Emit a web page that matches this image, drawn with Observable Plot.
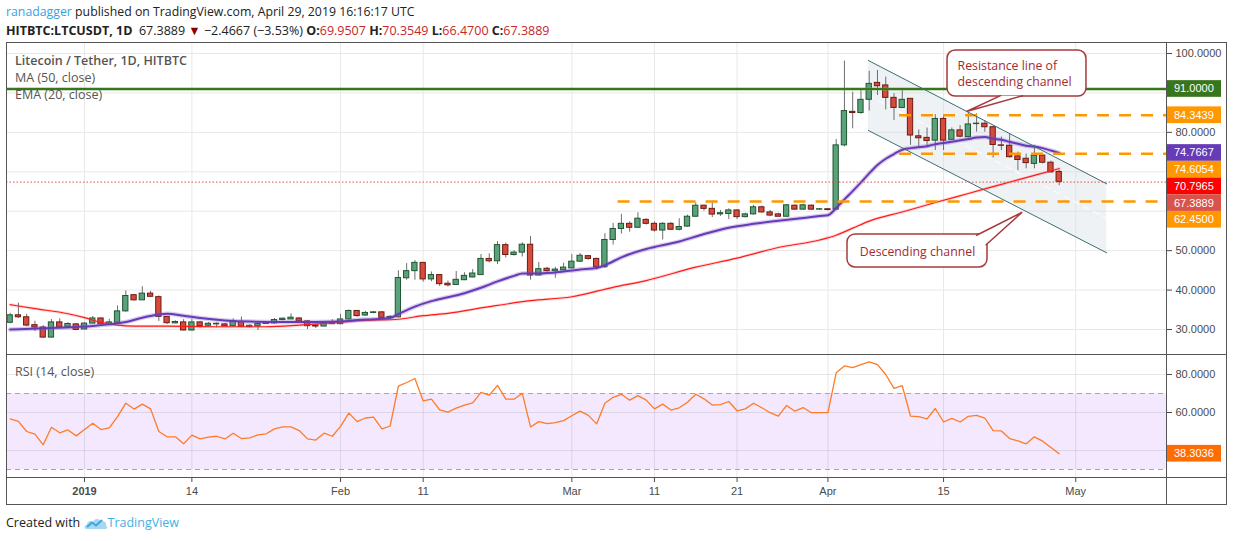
<!DOCTYPE html>
<html>
<head>
<meta charset="utf-8">
<script src="https://cdn.jsdelivr.net/npm/d3@7"></script>
<script src="https://cdn.jsdelivr.net/npm/@observablehq/plot@0.6"></script>
<style>
  html,body{margin:0;padding:0;background:#fff;}
  #root{position:relative;width:1234px;height:541px;overflow:hidden;font-family:"Open Sans","Noto Sans",sans-serif;color:#333;}
  .abs{position:absolute;}
  .hdr{position:absolute;left:6px;font-size:12.5px;white-space:nowrap;line-height:16px;color:#222;}
  .b{font-weight:700;}
  .rd{color:#c62828;}
  .ln{position:absolute;background:#555;}
  .leg{position:absolute;left:15px;font-size:12.5px;color:#555;white-space:nowrap;line-height:16px;}
</style>
</head>
<body>
<div id="root">
  <div class="hdr" style="top:4px;font-size:12.3px"><span style="color:#3ba2e0">ranadagger</span> published on TradingView.com, April 29, 2019 16:16:17 UTC</div>
  <div class="hdr" style="top:23px"><span class="b">HITBTC:LTCUSDT, 1D</span>&nbsp; 67.3889 <span style="color:#8b0000">▼</span> −2.4667 (−3.53%) <span class="b">O:</span><span class="rd">69.9507</span> <span class="b">H:</span><span class="rd">70.3549</span> <span class="b">L:</span><span class="rd">66.4700</span> <span class="b">C:</span><span class="rd">67.3889</span></div>
  <div id="price" class="abs" style="left:0;top:42px"></div>
  <div id="rsi" class="abs" style="left:0;top:354px"></div>
  <div class="leg" style="top:53px;font-weight:600;">Litecoin / Tether, 1D, HITBTC</div>
  <div class="leg" style="top:70px">MA (50, close)</div>
  <div class="leg" style="top:87px">EMA (20, close)</div>
  <div class="leg" style="top:364px">RSI (14, close)</div>
  <div class="ln" style="left:6px;top:42px;width:1221px;height:1px"></div>
  <div class="ln" style="left:6px;top:504px;width:1221px;height:1px"></div>
  <div class="ln" style="left:6px;top:42px;width:1px;height:463px"></div>
  <div class="ln" style="left:1226px;top:42px;width:1px;height:463px"></div>
  <div class="ln" style="left:1166px;top:42px;width:1px;height:463px"></div>
  <div class="ln" style="left:6px;top:354px;width:1221px;height:1px"></div>
  <div class="ln" style="left:6px;top:477px;width:1221px;height:1px"></div>
  <div class="abs" style="left:6px;top:514px;font-size:12.5px;line-height:18px;white-space:nowrap;color:#222;display:flex;align-items:center;">
    Created with&nbsp;<svg width="24" height="16" viewBox="0 0 24 16"><path d="M2 14 C0 14 0 10 3 9.5 C3 6 7 5 9 7 C10 3.5 15 3 16.5 6.5 C19 5 23 7 22 10.5 C24 11.5 23.5 14 21.5 14 Z" fill="#a8d8ef"/><path d="M3 12 L8 7.5 L12 10.5 L18 5" stroke="#3aa8dc" stroke-width="2" fill="none"/></svg><span style="color:#43b1e3">TradingView</span>
  </div>
</div>
<script>
const DAY = 864e5, T0 = Date.UTC(2019, 0, 1);
const toDate = d => new Date(T0 + d * DAY);
const FONT = '"Open Sans","Noto Sans",sans-serif';
const AXFONT = '"Liberation Sans",Arial,sans-serif';

// ---- data (day index 0 = 2019-01-01) ----
const firstDay = -9; // 2018-12-23
const opens = [31.7,33.6,33.1,31.1,30.5,27.95,31.8,30.6,31.3,
30.0,31.5,32.8,31.2,31.7,34.6,38.7,37.4,39.1,38.2,
33.2,31.55,31.8,29.75,31.8,30.95,31.3,31.3,30.85,31.9,
30.6,30.8,31.4,31.55,32.4,32.55,32.8,32.05,31.0,30.75,
31.8,31.35,32.55,34.7,33.55,34.2,34.35,32.95,33.1,43.0,
44.8,46.9,42.7,43.8,41.6,41.3,42.5,43.2,43.8,47.9,
47.3,51.4,48.9,49.5,51.5,43.7,45.4,44.8,45.0,45.5,
47.2,48.6,47.9,45.8,52.7,55.5,56.8,55.8,57.8,56.8,
55.1,56.8,55.3,56.1,58.6,61.4,60.6,59.2,59.3,60.2,
58.5,59.2,61.0,59.7,59.2,58.6,61.4,60.4,61.4,60.4,
60.5,60.4,76.7,85.2,84.9,88.25,92.55,91.9,88.75,86.2,
88.5,79.0,78.6,77.9,83.4,78.1,80.5,78.8,82.1,82.2,
81.3,76.7,76.6,73.9,73.3,72.0,74.1,72.3,69.9507];
const highs = [34.1,36.7,33.85,32.1,31.0,32.5,32.7,31.7,31.5,
31.7,33.3,32.9,32.6,36.0,39.8,38.9,40.85,39.7,38.5,
33.3,32.2,32.5,32.55,32.05,31.8,31.7,31.45,32.7,33.15,
31.2,31.6,31.95,32.8,32.9,34.0,33.0,32.3,31.3,31.9,
32.5,33.85,34.95,34.85,34.6,34.5,34.5,33.5,44.9,46.7,
47.5,46.95,44.6,43.9,42.3,44.7,44.4,45.2,49.0,49.2,
52.3,51.9,50.0,52.0,53.6,47.0,45.8,45.8,46.8,49.0,
49.3,48.8,48.1,54.3,56.9,59.2,57.3,59.6,58.1,57.3,
57.1,57.1,58.1,59.0,62.1,61.5,62.6,60.2,60.6,60.3,
59.5,61.5,61.3,60.2,59.5,61.7,61.6,61.8,61.6,60.7,
60.6,78.2,98.1,90.2,90.6,95.5,95.7,94.0,89.8,91.0,
88.6,80.6,81.1,84.5,84.5,81.1,81.7,84.9,84.7,83.0,
81.5,78.8,79.6,75.0,74.5,76.7,74.3,72.7,70.3549];
const lows = [31.45,32.8,30.7,29.5,27.8,27.9,30.3,30.4,29.7,
29.95,31.4,31.2,31.0,31.6,34.4,37.2,37.35,38.1,32.05,
31.3,31.45,29.65,29.55,30.4,30.75,30.4,30.7,30.7,30.6,
30.4,29.75,31.3,31.35,32.2,32.55,31.7,30.0,30.25,30.7,
31.3,31.2,32.4,33.15,33.3,34.0,32.8,32.8,32.9,42.5,
42.5,42.0,42.1,40.9,40.8,41.2,42.4,43.1,43.7,46.9,
46.5,48.1,48.6,48.4,42.5,43.6,44.5,43.0,44.8,45.4,
47.0,47.6,45.1,45.5,51.4,54.2,54.7,55.7,56.5,54.7,
52.7,55.1,55.0,55.9,58.5,60.0,58.4,58.7,57.9,57.9,
58.3,59.0,59.5,58.6,58.6,58.6,60.3,60.3,60.2,60.2,
60.1,60.3,76.3,80.9,84.6,85.4,89.35,85.7,83.0,86.0,
76.7,76.2,76.1,75.4,75.4,78.1,78.6,78.6,80.05,80.05,
73.5,75.4,73.5,70.3,70.75,70.75,72.0,69.7,66.47];
const closes = [33.6,33.1,31.0,30.5,27.95,31.8,30.5,31.4,29.9,
31.5,32.8,31.3,31.8,34.6,38.5,37.4,39.1,38.3,33.2,
31.6,31.9,29.75,31.8,30.85,31.45,31.45,30.8,32.05,30.7,
30.95,31.4,31.8,32.4,32.75,33.0,32.05,30.85,30.75,31.7,
31.35,32.55,34.7,33.4,34.2,34.35,32.95,33.2,43.05,44.8,
46.9,42.7,43.8,41.5,41.2,42.6,43.6,44.2,47.9,47.3,
51.4,48.9,49.5,51.5,43.7,45.3,44.8,45.2,45.7,47.2,
48.7,47.9,45.8,52.7,55.5,56.8,55.8,58.1,56.8,55.1,
56.8,55.3,56.0,58.6,61.4,60.6,59.15,59.5,60.2,58.5,
59.2,61.0,59.7,58.9,58.6,61.5,60.4,61.5,60.4,60.5,
60.3,76.7,85.4,84.9,88.25,92.3,91.7,88.75,86.2,88.25,
79.2,78.5,77.8,83.4,77.9,80.5,78.9,82.0,82.2,81.3,
76.8,76.6,73.7,73.0,72.2,74.1,72.3,69.8556,67.3889];
const rsiValues = [56.6,55.3,50.0,48.6,43.0,52.2,49.3,50.8,47.7,
51.0,54.3,51.0,51.9,57.8,64.9,61.8,64.4,61.9,50.0,
47.2,47.2,43.5,48.1,46.1,47.0,47.5,46.1,49.1,46.3,
46.7,48.2,48.8,51.4,52.4,52.4,50.5,46.1,45.5,49.1,
47.5,52.7,59.7,55.2,57.1,57.6,51.4,52.9,73.9,75.8,
77.9,66.1,67.0,61.4,60.2,62.3,63.9,65.1,70.6,69.1,
74.3,67.0,67.0,70.1,52.4,55.2,54.1,54.7,55.7,58.3,
60.7,58.5,54.0,64.9,68.0,69.6,66.5,68.9,66.5,61.9,
64.4,61.3,62.5,65.4,69.6,67.2,63.9,64.2,65.8,60.9,
61.9,64.9,62.5,59.9,58.1,63.7,60.7,62.6,59.9,59.9,
59.9,80.9,84.5,83.6,85.2,86.6,85.2,80.0,72.7,74.1,
58.1,57.8,56.6,62.1,55.0,56.9,55.0,58.0,58.5,57.1,
50.5,50.3,46.3,45.1,43.5,47.2,44.9,41.6,38.3036];
const maDays = [-9,-6,-2,0,2,4,6,10,16,22,26,30,34,38,41,44,49,54,59,64,68,74,79,84,89,91,93,95,99,103,107,111,115,118];
const maValues = [36.3,35.3,34.0,33.0,31.8,31.1,30.85,30.85,30.7,30.7,31.1,31.7,32.3,32.6,33.5,34.1,35.8,37.3,38.3,40.7,42.4,45.8,48.1,50.8,52.7,53.9,55.7,57.5,59.8,62.2,64.5,66.8,69.1,70.7965];
const emaDays = [-9,-5,-1,1,3,5,7,9,10,12,14,17,20,24,28,31,33,35,37,38,40,42,44,46,48,50,52,53,55,58,60,62,63,65,68,72,75,78,81,84,87,89,90,91,92,93,94,95,96,97,98,99,100,102,103,105,107,108,109,110,111,112,113,114,115,116,117,118];
const emaValues = [30.0,30.3,30.65,30.9,31.3,31.9,33.0,33.8,34.0,33.5,32.9,32.3,32.0,31.9,31.9,32.0,32.4,32.6,32.9,33.9,35.8,37.2,38.2,39.2,40.6,42.2,43.6,44.2,44.2,44.7,45.2,45.6,46.3,48.3,50.4,52.3,54.2,55.8,56.8,57.6,58.3,58.8,59.0,60.8,63.0,65.1,67.3,69.6,71.7,73.3,74.5,75.6,76.0,76.5,77.0,77.6,78.3,78.7,78.8,78.4,78.1,77.6,77.1,76.6,76.4,76.0,75.4,74.7667];

// axes
const xDomainDays = [-9.443, 130.99];
const tickDays = [0, 13, 31, 41, 59, 69, 79, 90, 104, 120];
const tickLabels = ["2019","14","Feb","11","Mar","11","21","Apr","15","May"];
const priceDomain = [23.66, 102.79];
const priceGrid = [30,40,50,60,70,80,90,100];
const priceTicks = [30,40,50,80,100];
const rsiDomain = [25.79, 90.53];
const rsiGrid = [40,60,80];
const rsiTicks = [60,80];
const rsiBand = [30,70];

// drawings
const resistanceLevel = 91;
const levelValues = [84.3439, 74.6054, 62.45];
const levelStartDays = [98.67, 98.67, 64.6];
const closeLevel = 67.3889;
const channelDays = [94.9, 123.75];
const channelUpper = [98.22, 66.95];
const channelLower = [80.47, 49.45];
const labelValues = [91, 84.3439, 74.7667, 74.6054, 70.7965, 67.3889, 62.45];
const labelColors = ["#38761d","#ff9800","#673ab7","#ff9800","#ff0000","#d9534a","#ff9800"];
const rsiLabelValues = [38.3036];
const rsiLabelColors = ["#ff6d00"];
const calloutTexts = ["Resistance line of\ndescending channel", "Descending channel"];
const calloutBoxDays = [[104.48, 121.3], [92.37, 109.32]];
const calloutBoxValues = [[100.76, 89.09], [54.1, 45.73]];
const calloutTextDays = [105.7, 100.85];
const calloutTextValues = [95.05, 50.0];
const calloutAnchors = ["start", "middle"];
const calloutTailDays = [[110.9, 106.78, 113.56], [108.0, 113.52, 109.15]];
const calloutTailValues = [[89.3, 85.29, 89.3], [53.9, 59.75, 51.5]];

// ---- build ----
const xDomain = xDomainDays.map(toDate);
const tickDates = tickDays.map(toDate);
const labelMap = new Map(tickDates.map((d, i) => [+d, tickLabels[i]]));
const candles = opens.map((o, i) => ({date: toDate(firstDay + i), open: o, high: highs[i], low: lows[i], close: closes[i]}));
const up = d => d.close >= d.open;
const maData = maDays.map((d, i) => ({date: toDate(d), value: maValues[i]}));
const emaData = emaDays.map((d, i) => ({date: toDate(d), value: emaValues[i]}));
const channel = channelDays.map((d, i) => ({date: toDate(d), upper: channelUpper[i], lower: channelLower[i], mid: (channelUpper[i] + channelLower[i]) / 2}));
const levels = levelValues.map((v, i) => ({value: v, start: toDate(levelStartDays[i]), end: xDomain[1]}));
const boxes = calloutTexts.map((t, i) => ({x1: toDate(calloutBoxDays[i][0]), x2: toDate(calloutBoxDays[i][1]), y1: calloutBoxValues[i][0], y2: calloutBoxValues[i][1]}));
const tails = calloutTexts.flatMap((t, i) => calloutTailDays[i].map((d, j) => ({id: i, date: toDate(d), value: calloutTailValues[i][j]})));
const texts = calloutTexts.map((t, i) => ({text: t, date: toDate(calloutTextDays[i]), value: calloutTextValues[i], anchor: calloutAnchors[i]}));
const FRAME_RIGHT = 1166;

function sideLabels(vals, colors) {
  return function(index, scales) {
    const g = d3.create("svg:g").attr("font-family", AXFONT).attr("font-size", 11).attr("text-anchor", "start");
    const items = vals.map((v, i) => ({v, c: colors[i]})).sort((a, b) => b.v - a.v);
    const h = 16.7;
    let prev = -Infinity;
    for (const it of items) {
      const cy = Math.max(scales.y(it.v), prev + h);
      prev = cy;
      g.append("rect").attr("x", FRAME_RIGHT).attr("y", cy - h / 2).attr("width", 55).attr("height", h).attr("fill", it.c);
      g.append("text").attr("x", FRAME_RIGHT + 8).attr("y", cy).attr("dy", "0.36em").attr("text-anchor", "start").attr("fill", "#fff").text(it.v.toFixed(4));
    }
    return g.node();
  };
}

const baseStyle = {background: "transparent", fontFamily: AXFONT, fontSize: "11px", color: "#4a4a4a", overflow: "visible"};
const textStyle = {x: "date", y: "value", text: "text", fill: "#a42a2f", fontSize: 12.3, fontFamily: FONT, lineHeight: 1.32};

const price = Plot.plot({
  width: 1234, height: 312, marginLeft: 6, marginRight: 68, marginTop: 0, marginBottom: 0,
  style: baseStyle,
  x: {type: "utc", domain: xDomain, axis: null},
  y: {domain: priceDomain, axis: "right", ticks: priceTicks, tickFormat: d => d.toFixed(4), tickSize: 5, tickPadding: 4, label: null},
  marks: [
    Plot.ruleY(priceGrid, {stroke: "#e8e8e8"}),
    Plot.ruleX(tickDates, {stroke: "#e8e8e8"}),
    Plot.areaY(channel, {x: "date", y1: "lower", y2: "upper", fill: "#d6dce4", fillOpacity: 0.38}),
    Plot.line(channel, {x: "date", y: "mid", stroke: "#fff", strokeWidth: 1, strokeDasharray: "6,5"}),
    Plot.ruleX(candles, {x: "date", y1: "low", y2: "high", stroke: "#6e6e6e", strokeWidth: 1}),
    Plot.rect(candles, {x1: d => new Date(+d.date - 0.32 * DAY), x2: d => new Date(+d.date + 0.32 * DAY), y1: "open", y2: "close",
      fill: d => up(d) ? "#5ba27a" : "#d64c3c", stroke: d => up(d) ? "#1e5631" : "#6e1a10", strokeWidth: 1}),
    Plot.line(maData, {x: "date", y: "value", stroke: "#ff3030", strokeWidth: 3, strokeOpacity: 0.18, curve: "monotone-x"}),
    Plot.line(maData, {x: "date", y: "value", stroke: "#ff1a1a", strokeWidth: 1.2, curve: "monotone-x"}),
    Plot.line(emaData, {x: "date", y: "value", stroke: "#7e57c2", strokeWidth: 4.5, strokeOpacity: 0.3, curve: "monotone-x"}),
    Plot.line(emaData, {x: "date", y: "value", stroke: "#673ab7", strokeWidth: 2, curve: "monotone-x"}),
    Plot.ruleY([resistanceLevel], {stroke: "#6aa84f", strokeWidth: 3.5, strokeOpacity: 0.5}),
    Plot.ruleY([resistanceLevel], {stroke: "#38761d", strokeWidth: 1.8}),
    Plot.ruleY(levels, {y: "value", x1: "start", x2: "end", stroke: "#ff9800", strokeWidth: 2.5, strokeDasharray: "12,10"}),
    Plot.ruleY([closeLevel], {stroke: "#d9534a", strokeWidth: 1, strokeDasharray: "1.5,2"}),
    Plot.line(channel, {x: "date", y: "upper", stroke: "#3b6d74", strokeWidth: 1}),
    Plot.line(channel, {x: "date", y: "lower", stroke: "#3b6d74", strokeWidth: 1}),
    Plot.rect(boxes, {x1: "x1", x2: "x2", y1: "y1", y2: "y2", fill: "#fff", stroke: "#a83a3c", strokeWidth: 1.5, rx: 8}),
    Plot.line(tails, {x: "date", y: "value", z: "id", fill: "#fff", stroke: "#a83a3c", strokeWidth: 1.5, strokeLinejoin: "miter"}),
    Plot.text(texts.filter(d => d.anchor === "start"), {...textStyle, textAnchor: "start"}),
    Plot.text(texts.filter(d => d.anchor === "middle"), {...textStyle, textAnchor: "middle"}),
    sideLabels(labelValues, labelColors)
  ]
});
document.getElementById("price").appendChild(price);

const rsiData = rsiValues.map((v, i) => ({date: toDate(firstDay + i), rsi: v}));
const rsi = Plot.plot({
  width: 1234, height: 151, marginLeft: 6, marginRight: 68, marginTop: 0, marginBottom: 28,
  style: baseStyle,
  x: {type: "utc", domain: xDomain, axis: "bottom", ticks: tickDates, tickFormat: d => labelMap.get(+d), tickSize: 5, tickPadding: 5, label: null},
  y: {domain: rsiDomain, axis: "right", ticks: rsiTicks, tickFormat: d => d.toFixed(4), tickSize: 5, tickPadding: 4, label: null},
  marks: [
    Plot.rect([rsiBand], {y1: d => d[0], y2: d => d[1], fill: "#f3e8fd"}),
    Plot.ruleY(rsiGrid, {stroke: "#000", strokeOpacity: 0.09}),
    Plot.ruleX(tickDates, {stroke: "#000", strokeOpacity: 0.09}),
    Plot.ruleY(rsiBand, {stroke: "#a9a3b1", strokeDasharray: "5,4"}),
    Plot.line(rsiData, {x: "date", y: "rsi", stroke: "#ff7b25", strokeWidth: 1.3}),
    sideLabels(rsiLabelValues, rsiLabelColors)
  ]
});
document.getElementById("rsi").appendChild(rsi);
d3.select(rsi).selectAll("text").filter(function() { return this.textContent === "2019"; }).attr("font-weight", "bold");
</script>
</body>
</html>
